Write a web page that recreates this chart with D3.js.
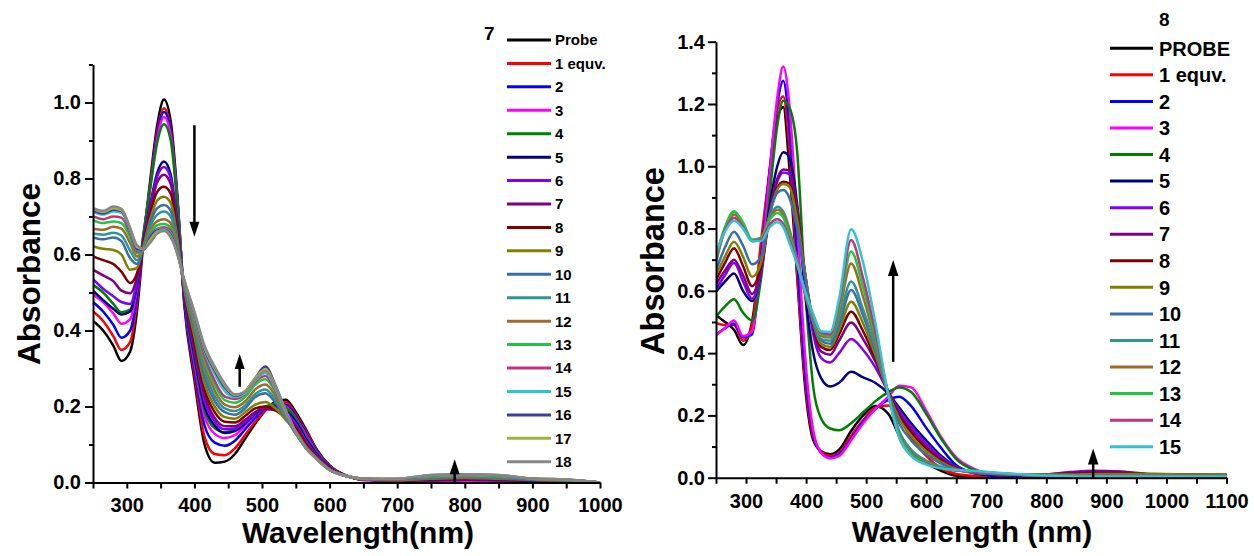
<!DOCTYPE html>
<html>
<head>
<meta charset="utf-8">
<script src="https://cdn.jsdelivr.net/npm/d3@7"></script>
<style>
  html, body { margin: 0; padding: 0; background: #fff; }
  svg { display: block; }
  text { font-family: "Liberation Sans", Arial, Helvetica, sans-serif; font-weight: bold; fill: #000; }
</style>
</head>
<body>
<svg id="chart" width="1254" height="556"></svg>
<script>
// ---------- Compound 7 titration (left panel) ----------
const leftWaves = [250,265,280,292,305,315,325,335,345,355,365,375,385,400,415,430,445,460,475,490,505,520,535,550,565,580,600,625,650,700,750,800,850,900,950,1000];
const leftLabels = ["Probe","1 equv.","2","3","4","5","6","7","8","9","10","11","12","13","14","15","16","17","18"];

const L_probe = [.425,.40,.36,.32,.345,.45,.64,.80,.94,1.008, .95,.75,.47,.27,.10,.052,.055, .075,.115,.155,.19,.213,.218,.185,.14,.09, .045,.018,.008,.005,.005,.005,.004,.003,.002,0];
const L_1  = [.45,.425,.385,.349,.37,.47,.645,.79,.925,.985, .93,.74,.475,.285,.12,.075,.072, .09,.125,.16,.19,.208,.212,.18,.135,.088, .044,.018,.008,.006,.006,.006,.005,.004,.003,0];
const L_2  = [.475,.45,.415,.381,.40,.49,.65,.785,.915,.975, .925,.74,.48,.30,.15,.105,.097, .11,.14,.17,.195,.207,.205,.175,.13,.085, .043,.018,.008,.006,.006,.008,.007,.005,.003,0];
const L_3  = [.495,.475,.445,.418,.43,.51,.655,.78,.905,.962, .915,.735,.49,.315,.175,.128,.117, .125,.15,.178,.198,.205,.20,.17,.125,.082, .042,.018,.006,.003,.003,.003,.003,.003,.002,0];
const L_4  = [.52,.50,.47,.448,.455,.525,.66,.78,.895,.943, .90,.725,.49,.325,.19,.143,.132, .14,.16,.185,.20,.205,.198,.168,.12,.08, .041,.018,.008,.005,.01,.01,.008,.005,.003,0];
const L_5  = [.505,.48,.457,.442,.45,.52,.64,.735,.815,.845, .81,.675,.49,.335,.20,.15,.13, .135,.155,.18,.197,.20,.19,.16,.115,.077, .04,.017,.008,.005,.006,.007,.006,.005,.004,0];
const L_6  = [.535,.51,.49,.475,.47,.53,.64,.73,.805,.83, .80,.67,.495,.345,.215,.16,.14, .142,.16,.183,.196,.197,.185,.155,.11,.074, .039,.017,.008,.005,.006,.008,.008,.007,.006,0];
const L_7  = [.56,.545,.53,.505,.498,.54,.635,.72,.79,.81, .785,.66,.50,.355,.23,.17,.148, .148,.165,.185,.193,.19,.175,.148,.105,.071, .038,.017,.008,.005,.006,.007,.007,.006,.005,0];
const L_8  = [.595,.585,.575,.555,.525,.55,.63,.71,.765,.778, .76,.65,.505,.37,.245,.185,.16, .158,.175,.195,.20,.19,.17,.142,.10,.068, .037,.016,.008,.005,.008,.01,.008,.007,.005,0];
const L_9  = [.622,.615,.612,.60,.56,.565,.625,.695,.742,.752, .735,.64,.51,.385,.26,.20,.172, .168,.185,.205,.212,.195,.165,.135,.095,.066, .035,.016,.008,.006,.01,.012,.01,.007,.005,0];
const L_10 = [.645,.64,.645,.635,.59,.575,.622,.685,.722,.73, .715,.63,.515,.40,.28,.215,.185, .178,.195,.225,.235,.21,.17,.13,.094,.064, .034,.016,.009,.007,.012,.014,.012,.008,.006,0];
const L_11 = [.655,.652,.657,.65,.61,.585,.62,.675,.705,.713, .70,.625,.52,.41,.295,.228,.195, .188,.203,.233,.245,.218,.172,.128,.092,.064, .034,.017,.01,.008,.014,.016,.014,.009,.006,0];
const L_12 = [.668,.665,.673,.668,.63,.595,.615,.665,.688,.693, .682,.615,.522,.42,.31,.242,.205, .198,.213,.245,.258,.228,.175,.128,.092,.064, .034,.017,.01,.008,.015,.017,.015,.01,.007,0];
const L_13 = [.69,.683,.687,.683,.645,.603,.613,.657,.677,.68, .67,.61,.525,.43,.322,.256,.217, .21,.225,.258,.272,.238,.18,.13,.092,.064, .034,.017,.01,.008,.016,.018,.016,.01,.007,0];
const L_14 = [.70,.693,.70,.697,.655,.607,.612,.652,.668,.672, .663,.607,.527,.435,.332,.268,.226, .22,.233,.265,.28,.242,.182,.13,.092,.064, .034,.017,.01,.008,.017,.019,.017,.01,.007,0];
const L_15 = [.712,.705,.713,.71,.662,.612,.612,.648,.665,.668, .655,.603,.53,.44,.345,.285,.24, .225,.235,.268,.288,.246,.185,.131,.09,.063, .033,.017,.01,.009,.018,.02,.018,.01,.007,0];
const L_16 = [.716,.708,.718,.714,.665,.614,.613,.647,.663,.665, .652,.602,.531,.445,.35,.295,.25, .228,.24,.275,.305,.255,.19,.133,.09,.063, .033,.017,.01,.009,.019,.021,.019,.01,.008,0];
const L_17 = [.72,.712,.722,.717,.668,.62,.614,.64,.66,.664, .648,.60,.532,.448,.355,.30,.255, .23,.24,.275,.298,.252,.19,.133,.09,.063, .033,.017,.01,.01,.02,.022,.02,.01,.008,0];
const L_18 = [.722,.715,.726,.72,.67,.625,.615,.632,.655,.662, .645,.60,.533,.45,.36,.305,.26, .232,.238,.27,.293,.25,.19,.133,.09,.063, .033,.018,.01,.01,.02,.022,.02,.01,.008,0];

const leftRows = [L_probe,L_1,L_2,L_3,L_4,L_5,L_6,L_7,L_8,L_9,L_10,L_11,L_12,L_13,L_14,L_15,L_16,L_17,L_18];
const leftXMajor = [300,400,500,600,700,800,900,1000];
const leftXMinor = [250,350,450,550,650,750,850,950];
const leftYMajor = [0,0.2,0.4,0.6,0.8,1.0];
const leftYMinor = [0.1,0.3,0.5,0.7,0.9,1.1];
// arrows: wavelength, start absorbance, tip absorbance
const leftArrows = [
  { w: 400, from: 0.94, to: 0.647 },
  { w: 467, from: 0.252, to: 0.338 },
  { w: 785, from: -0.004, to: 0.061 }
];

// ---------- Compound 8 titration (right panel) ----------
const rightWaves = [250,265,280,295,310,325,340,352,362,372,385,398,412,425,440,455,475,495,515,537,555,575,600,625,650,680,720,780,840,880,920,980,1040,1100];
const rightLabels = ["PROBE","1 equv.","2","3","4","5","6","7","8","9","10","11","12","13","14","15"];

const R_probe = [.522,.50,.475,.426,.50,.74,.99,1.15,1.19,1.0, .65,.30,.12,.085,.075, .09,.15,.20,.23,.205, .135,.085,.048,.022,.006, .002,.001,.001,.001,.002, .002,.002,.002,.002];
const R_1  = [.496,.49,.49,.44,.49,.76,1.0,1.18,1.225,1.06, .66,.32,.13,.085,.07, .08,.135,.185,.225,.232, .19,.13,.07,.03,.012, .006,.004,.003,.003,.003, .003,.003,.003,.003];
const R_2  = [.46,.48,.495,.45,.46,.70,1.0,1.2,1.275,1.13, .72,.35,.14,.08,.065, .075,.125,.18,.22,.25, .26,.23,.16,.095,.04, .015,.005,.003,.003,.003, .003,.003,.003,.003];
const R_3  = [.458,.48,.505,.455,.47,.68,.99,1.22,1.32,1.2, .82,.40,.15,.08,.062, .07,.12,.175,.22,.26, .295,.29,.215,.13,.065, .028,.008,.002,.002,.002, .002,.002,.002,.002];
const R_4  = [.517,.55,.573,.53,.505,.64,.92,1.13,1.21,1.19, 1.05,.62,.29,.19,.158, .152,.175,.21,.245,.275, .29,.275,.205,.125,.06, .025,.01,.005,.006,.006, .006,.006,.006,.006];
const R_5  = [.597,.63,.656,.60,.567,.66,.88,1.0,1.045,1.03, .88,.60,.40,.32,.293, .305,.34,.322,.305,.27, .225,.175,.12,.07,.035, .015,.008,.006,.008,.008, .008,.006,.006,.006];
const R_6  = [.605,.65,.69,.63,.575,.66,.85,.95,.98,.975, .86,.64,.46,.385,.37, .40,.445,.41,.355,.275, .215,.165,.11,.065,.035, .018,.01,.008,.018,.022, .02,.008,.006,.006];
const R_7  = [.62,.665,.70,.65,.59,.67,.86,.96,.99,.985, .87,.66,.48,.405,.395, .44,.498,.445,.375,.275, .205,.155,.10,.06,.032, .016,.01,.008,.016,.02, .02,.01,.008,.008];
const R_8  = [.635,.69,.737,.68,.615,.68,.85,.93,.95,.945, .84,.66,.49,.42,.41, .46,.533,.47,.385,.275, .20,.145,.092,.055,.03, .016,.012,.01,.012,.014, .014,.012,.011,.01];
const R_9  = [.65,.71,.758,.71,.645,.69,.85,.925,.943,.935, .83,.66,.50,.43,.42, .475,.565,.495,.395,.272, .19,.135,.085,.05,.028, .016,.012,.01,.01,.012, .012,.012,.01,.01];
const R_10 = [.665,.74,.79,.745,.685,.71,.85,.915,.924,.90, .80,.65,.50,.44,.43, .49,.603,.52,.41,.27, .175,.12,.075,.045,.025, .016,.012,.008,.008,.008, .008,.008,.006,.006];
const R_11 = [.69,.80,.855,.815,.76,.77,.84,.87,.855,.80, .70,.59,.50,.445,.44, .51,.63,.54,.42,.268, .15,.09,.055,.035,.025, .02,.014,.008,.006,.006, .006,.006,.006,.006];
const R_12 = [.70,.795,.845,.81,.76,.77,.835,.86,.845,.79, .70,.595,.51,.455,.45, .53,.688,.58,.44,.268, .14,.08,.05,.032,.024, .02,.014,.008,.006,.006, .006,.006,.006,.006];
const R_13 = [.71,.805,.855,.82,.765,.77,.83,.85,.835,.78, .695,.60,.515,.46,.455, .545,.726,.61,.455,.267, .135,.075,.048,.03,.023, .02,.014,.008,.006,.005, .005,.005,.005,.005];
const R_14 = [.715,.795,.835,.805,.76,.765,.815,.83,.815,.765, .69,.60,.52,.465,.46, .56,.763,.64,.47,.266, .13,.072,.045,.03,.023, .02,.014,.008,.005,.005, .005,.005,.005,.005];
const R_15 = [.72,.79,.825,.80,.76,.76,.805,.82,.805,.755, .685,.60,.525,.47,.468, .575,.798,.69,.50,.265, .13,.07,.042,.03,.025, .022,.016,.009,.005,.004, .004,.004,.004,.004];

const rightRows = [R_probe,R_1,R_2,R_3,R_4,R_5,R_6,R_7,R_8,R_9,R_10,R_11,R_12,R_13,R_14,R_15];
const rightXMajor = [300,400,500,600,700,800,900,1000,1100];
const rightXMinor = [250,350,450,550,650,750,850,950,1050];
const rightYMajor = [0,0.2,0.4,0.6,0.8,1.0,1.2,1.4];
const rightYMinor = [0.1,0.3,0.5,0.7,0.9,1.1,1.3];
const rightArrows = [
  { w: 545, from: 0.372, to: 0.699 },
  { w: 878, from: -0.004, to: 0.094 }
];

// Line colours, one per titration step
const seriesColors = ["#000000","#ff0000","#0000ff","#ff00ff","#008000","#000080","#8000ff","#800080",
  "#800000","#808000","#3a6ea8","#2b9696","#a2682c","#1fc742","#c2337f","#30c6cf","#3d3d9e","#a3b23f","#878787"];

const svg = d3.select("#chart");
const defs = svg.append("defs");

function drawPanel(p) {
  const x = d3.scaleLinear().domain(p.xDomain).range([p.left, p.right]);
  const y = d3.scaleLinear().domain(p.yDomain).range([p.bottom, p.top]);
  const g = svg.append("g");

  defs.append("clipPath").attr("id", p.id + "-clip")
    .append("rect")
    .attr("x", p.left).attr("y", p.top - 20)
    .attr("width", p.right - p.left + 1).attr("height", p.bottom - p.top + 21);

  const line = d3.line()
    .x((d, i) => x(p.waves[i]))
    .y(d => y(d))
    .curve(d3.curveMonotoneX);

  g.append("g").attr("clip-path", `url(#${p.id}-clip)`)
    .selectAll("path")
    .data(p.rows)
    .join("path")
    .attr("d", line)
    .attr("fill", "none")
    .attr("stroke", (d, i) => seriesColors[i])
    .attr("stroke-width", 2.5)
    .attr("stroke-linejoin", "round");

  // axes
  const xAxisG = g.append("g").attr("transform", `translate(0,${p.bottom})`);
  xAxisG.call(d3.axisBottom(x).tickValues(p.xMajor).tickSize(6).tickSizeOuter(0)
    .tickPadding(p.xPad).tickFormat(d3.format("d")));
  g.append("g").attr("transform", `translate(0,${p.bottom})`)
    .call(d3.axisBottom(x).tickValues(p.xMinor).tickSize(6).tickSizeOuter(0).tickFormat(""))
    .select(".domain").remove();

  const yAxisG = g.append("g").attr("transform", `translate(${p.left},0)`);
  yAxisG.call(d3.axisLeft(y).tickValues(p.yMajor).tickSize(8).tickSizeOuter(0)
    .tickPadding(p.yPad).tickFormat(d3.format(".1f")));
  g.append("g").attr("transform", `translate(${p.left},0)`)
    .call(d3.axisLeft(y).tickValues(p.yMinor).tickSize(4).tickSizeOuter(0).tickFormat(""))
    .select(".domain").remove();

  g.selectAll(".domain").attr("stroke", "#000").attr("stroke-width", 2);
  g.selectAll(".tick line").attr("stroke", "#000").attr("stroke-width", 2);
  g.selectAll(".tick text").attr("font-size", 20).attr("font-family", null).style("font-weight", "bold");

  // axis titles
  g.append("text")
    .attr("x", p.xTitleX).attr("y", p.xTitleY)
    .attr("text-anchor", "middle")
    .attr("font-size", 30)
    .text(p.xTitle);
  g.append("text")
    .attr("transform", `translate(${p.yTitleX},${p.yTitleY}) rotate(-90)`)
    .attr("text-anchor", "middle")
    .attr("font-size", p.yTitleSize)
    .text("Absorbance");

  // arrows
  p.arrows.forEach(a => {
    const ax = x(a.w), y0 = y(a.from), y1 = y(a.to);
    const dir = y1 < y0 ? 1 : -1; // 1 = pointing up
    const hl = a.headLen || p.headLen, hw = p.headW;
    g.append("line")
      .attr("x1", ax).attr("x2", ax)
      .attr("y1", y0).attr("y2", y1 + dir * (hl - 2))
      .attr("stroke", "#000").attr("stroke-width", 2.5);
    g.append("path")
      .attr("d", `M${ax},${y1} L${ax - hw / 2},${y1 + dir * hl} L${ax + hw / 2},${y1 + dir * hl} Z`)
      .attr("fill", "#000");
  });

  // legend
  const lg = g.append("g");
  lg.append("text")
    .attr("x", p.legend.titleX).attr("y", p.legend.titleY)
    .attr("font-size", p.legend.titleSize)
    .text(p.legend.title);
  const rows = lg.selectAll("g.row").data(p.labels).join("g")
    .attr("class", "row")
    .attr("transform", (d, i) => `translate(0,${p.legend.y0 + i * p.legend.step})`);
  rows.append("line")
    .attr("x1", p.legend.x1).attr("x2", p.legend.x2)
    .attr("y1", 0).attr("y2", 0)
    .attr("stroke", (d, i) => seriesColors[i])
    .attr("stroke-width", 3);
  rows.append("text")
    .attr("x", p.legend.tx).attr("y", 0).attr("dy", "0.36em")
    .attr("font-size", p.legend.fontSize)
    .text(d => d);
}

drawPanel({
  id: "left",
  waves: leftWaves, rows: leftRows, labels: leftLabels,
  xDomain: [250, 1000], yDomain: [0, 1.1],
  left: 93, right: 600, top: 64.5, bottom: 482.5,
  xMajor: leftXMajor, xMinor: leftXMinor, yMajor: leftYMajor, yMinor: leftYMinor,
  xPad: 9, yPad: 4,
  xTitle: "Wavelength(nm)", xTitleX: 358, xTitleY: 543,
  yTitleX: 40, yTitleY: 274, yTitleSize: 31.5,
  arrows: leftArrows, headLen: 15, headW: 10,
  legend: { title: "7", titleX: 484, titleY: 40, titleSize: 19,
            y0: 40, step: 23.43, x1: 507, x2: 551, tx: 555, fontSize: 15 }
});

drawPanel({
  id: "right",
  waves: rightWaves, rows: rightRows, labels: rightLabels,
  xDomain: [250, 1100], yDomain: [0, 1.4],
  left: 716, right: 1226.5, top: 41.7, bottom: 477.7,
  xMajor: rightXMajor, xMinor: rightXMinor, yMajor: rightYMajor, yMinor: rightYMinor,
  xPad: 10, yPad: 3,
  xTitle: "Wavelength (nm)", xTitleX: 972, xTitleY: 542,
  yTitleX: 664, yTitleY: 261, yTitleSize: 32.5,
  arrows: rightArrows, headLen: 16, headW: 10.5,
  legend: { title: "8", titleX: 1159, titleY: 26, titleSize: 19,
            y0: 48.3, step: 26.56, x1: 1110, x2: 1153, tx: 1159, fontSize: 20 }
});
</script>
</body>
</html>
